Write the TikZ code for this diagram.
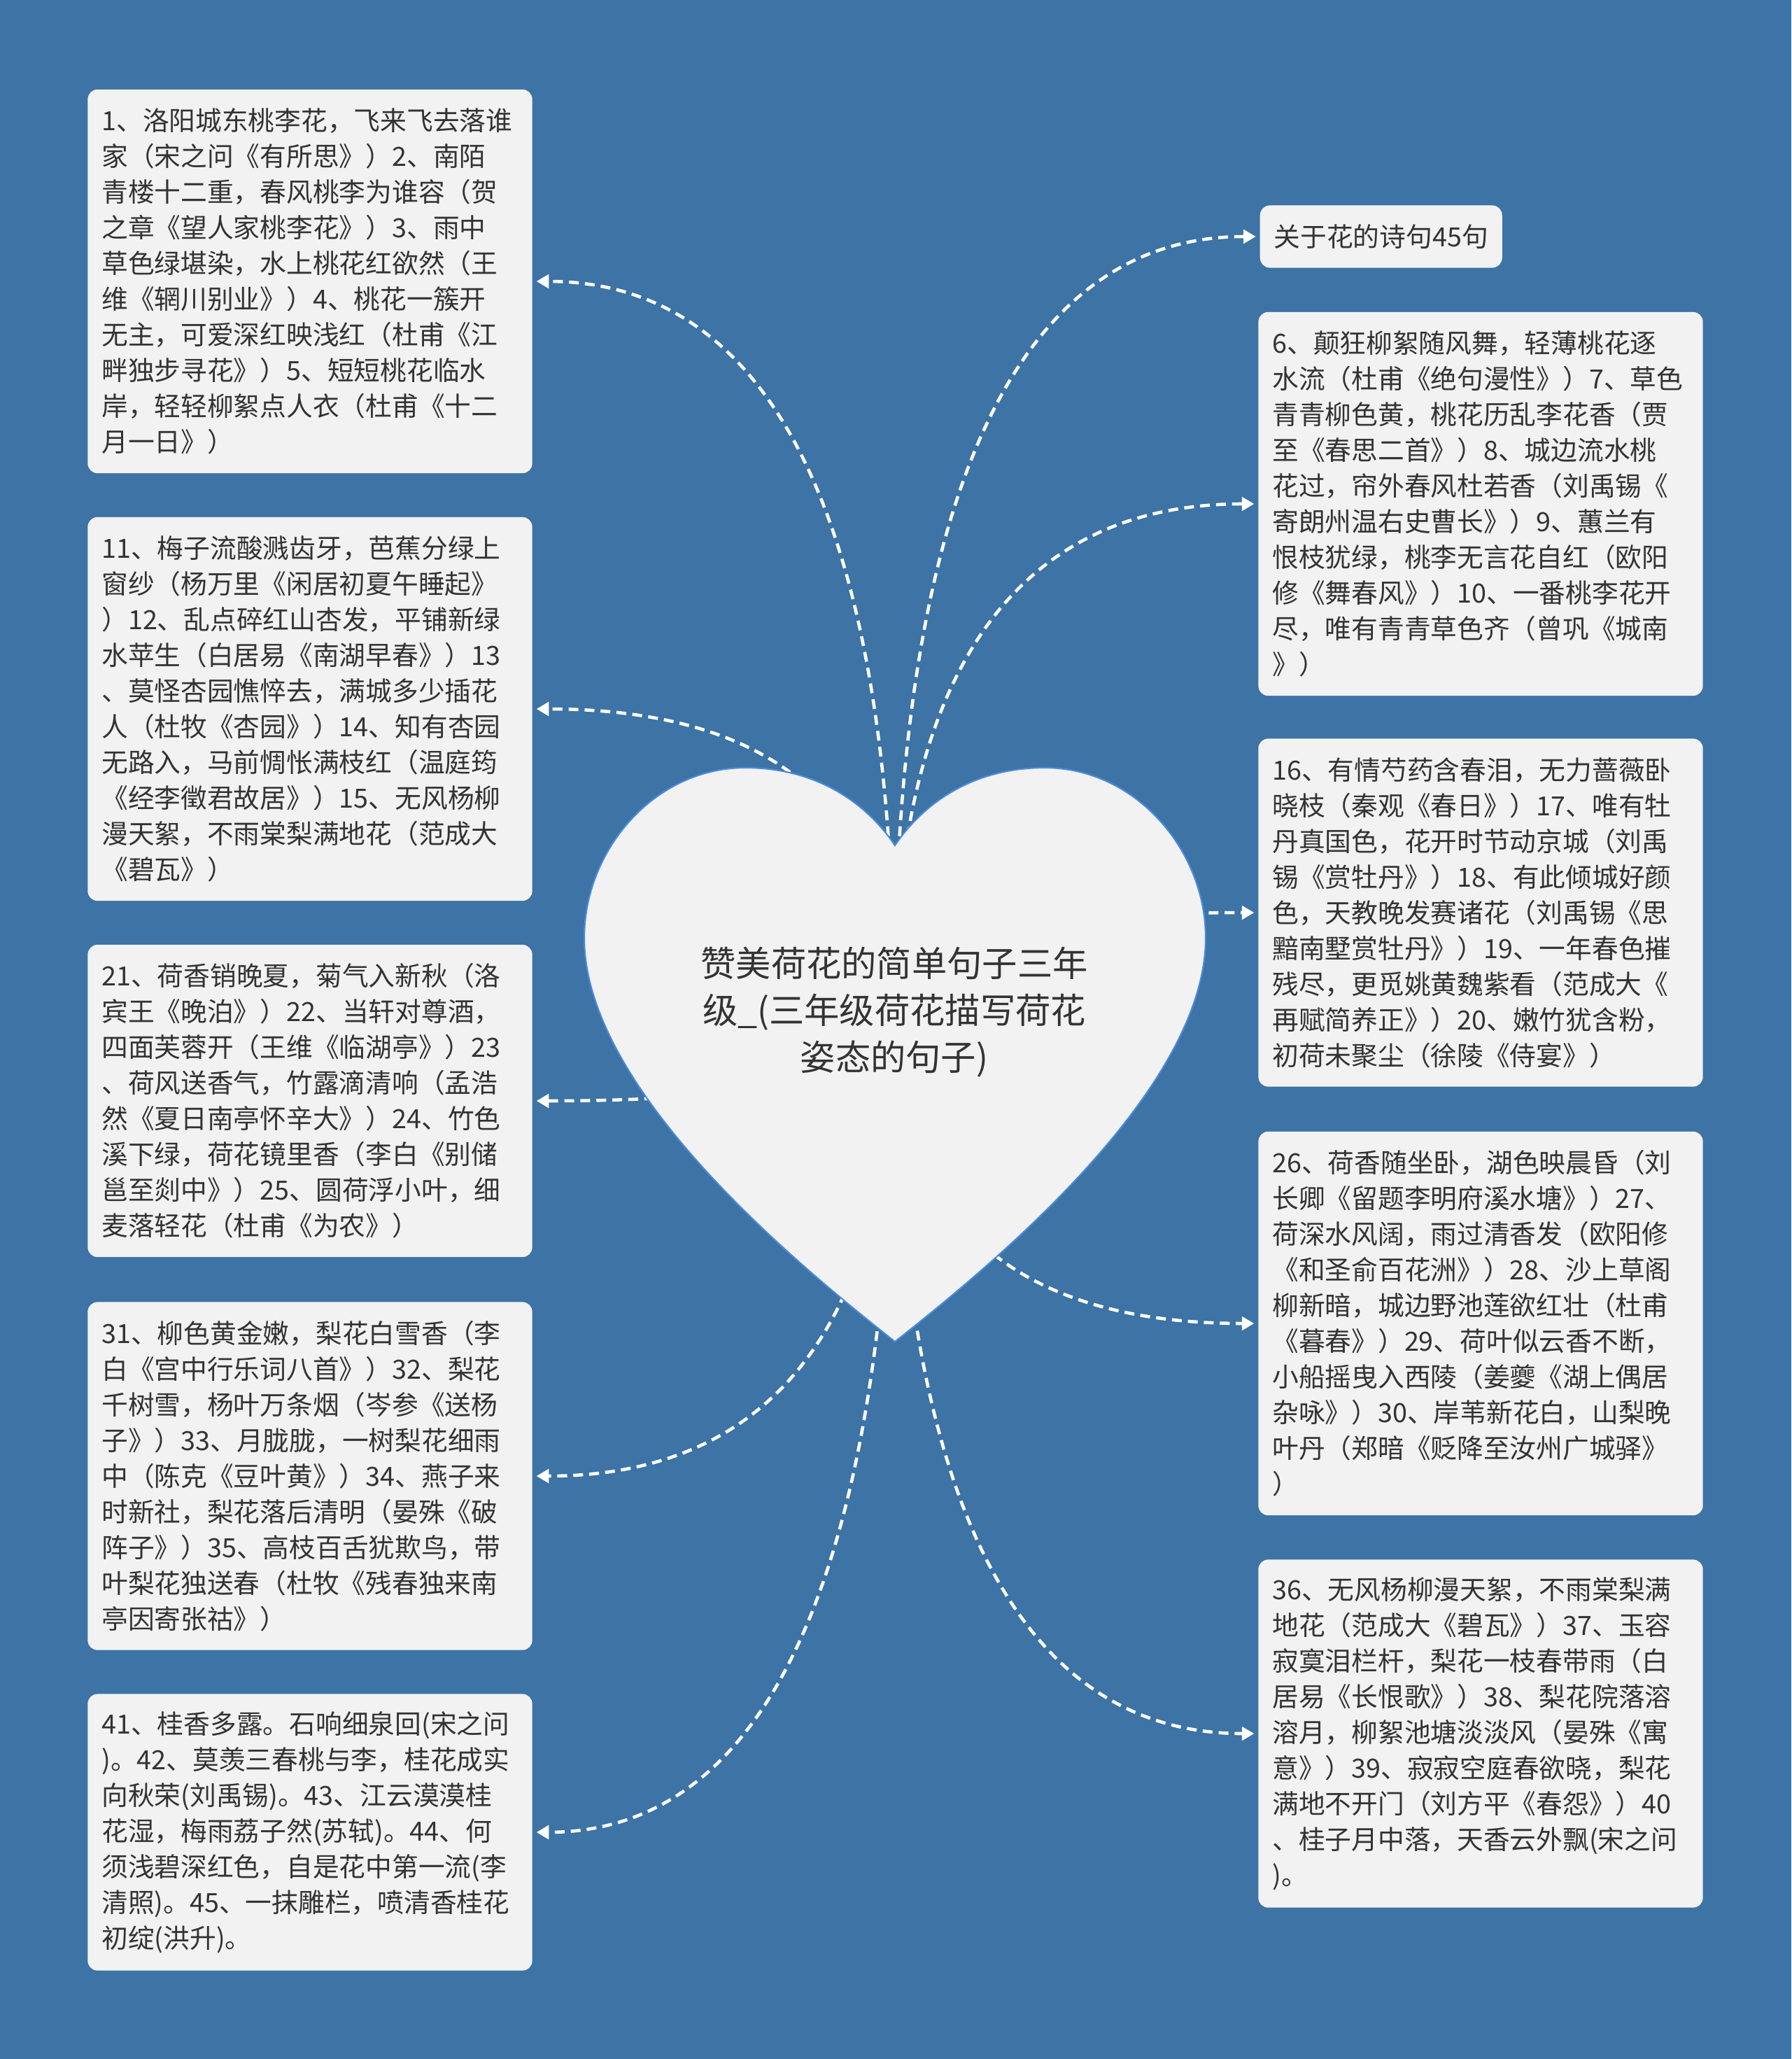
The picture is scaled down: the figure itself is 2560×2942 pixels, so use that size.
\documentclass[tikz,border=0pt]{standalone}
\usepackage{fontspec}
\setmainfont{Noto Sans CJK SC}
\usetikzlibrary{arrows.meta,calc}
\definecolor{bgblue}{HTML}{3D73A5}
\definecolor{cardgray}{HTML}{F2F2F2}
\definecolor{inkgray}{HTML}{333333}
\definecolor{rimblue}{HTML}{4A8BDB}
\pgfdeclarelayer{bg}
\pgfdeclarelayer{links}
\pgfsetlayers{bg,links,main}

\begin{document}
\begin{tikzpicture}[x=0.01cm,y=-0.01cm,
    leaf/.style={fill=cardgray, text=inkgray, rounded corners=4pt, text width=5.95cm, align=left, inner xsep=0.2cm, inner ysep=0pt, minimum height=#1, font=\fontsize{10.73pt}{14.51pt}\selectfont},
    tag/.style={fill=cardgray, text=inkgray, rounded corners=4pt, inner xsep=0.2cm, inner ysep=0pt, minimum height=0.89cm, font=\fontsize{10.73pt}{14.51pt}\selectfont},
    link/.style={draw=white, line width=1.3pt, dash pattern=on 4pt off 2.5pt, -{Triangle[length=5pt,width=5.5pt]}, shorten >=1.5pt}]
    \useasboundingbox (0,0) rectangle (2560,2942);
    \begin{pgfonlayer}{bg}
        \fill[bgblue] (0,0) rectangle (2560,2942);
    \end{pgfonlayer}

    \filldraw[fill=cardgray, draw=rimblue, line width=0.6pt] (1279,1917) .. controls (1150,1815) and (835,1560) .. (835,1340) .. controls (835,1215) and (935,1097) .. (1065,1097) .. controls (1170,1097) and (1240,1150) .. (1279,1208) .. controls (1318,1150) and (1388,1097) .. (1493,1097) .. controls (1623,1097) and (1723,1215) .. (1723,1340) .. controls (1723,1560) and (1408,1815) .. (1279,1917) -- cycle;

    \node[text=inkgray, align=center, font=\fontsize{14.3pt}{19.06pt}\selectfont] (root) at (1278,1446) {赞美荷花的简单句子三年\\级\_(三年级荷花描写荷花\\姿态的句子)};

    \node[leaf=5.48cm] (l1) at (443,402) {1、洛阳城东桃李花，飞来飞去落谁\\
家（宋之问《有所思》）2、南陌\\
青楼十二重，春风桃李为谁容（贺\\
之章《望人家桃李花》）3、雨中\\
草色绿堪染，水上桃花红欲然（王\\
维《辋川别业》）4、桃花一簇开\\
无主，可爱深红映浅红（杜甫《江\\
畔独步寻花》）5、短短桃花临水\\
岸，轻轻柳絮点人衣（杜甫《十二\\
月一日》）};
    \node[leaf=5.48cm] (l2) at (443,1013) {11、梅子流酸溅齿牙，芭蕉分绿上\\
窗纱（杨万里《闲居初夏午睡起》\\
）12、乱点碎红山杏发，平铺新绿\\
水苹生（白居易《南湖早春》）13\\
、莫怪杏园憔悴去，满城多少插花\\
人（杜牧《杏园》）14、知有杏园\\
无路入，马前惆怅满枝红（温庭筠\\
《经李徵君故居》）15、无风杨柳\\
漫天絮，不雨棠梨满地花（范成大\\
《碧瓦》）};
    \node[leaf=4.46cm] (l3) at (443,1573) {21、荷香销晚夏，菊气入新秋（洛\\
宾王《晚泊》）22、当轩对尊酒，\\
四面芙蓉开（王维《临湖亭》）23\\
、荷风送香气，竹露滴清响（孟浩\\
然《夏日南亭怀辛大》）24、竹色\\
溪下绿，荷花镜里香（李白《别储\\
邕至剡中》）25、圆荷浮小叶，细\\
麦落轻花（杜甫《为农》）};
    \node[leaf=4.97cm] (l4) at (443,2109) {31、柳色黄金嫩，梨花白雪香（李\\
白《宫中行乐词八首》）32、梨花\\
千树雪，杨叶万条烟（岑参《送杨\\
子》）33、月胧胧，一树梨花细雨\\
中（陈克《豆叶黄》）34、燕子来\\
时新社，梨花落后清明（晏殊《破\\
阵子》）35、高枝百舌犹欺鸟，带\\
叶梨花独送春（杜牧《残春独来南\\
亭因寄张祜》）};
    \node[leaf=3.95cm] (l5) at (443,2618) {41、桂香多露。石响细泉回(宋之问\\
)。42、莫羡三春桃与李，桂花成实\\
向秋荣(刘禹锡)。43、江云漠漠桂\\
花湿，梅雨荔子然(苏轼)。44、何\\
须浅碧深红色，自是花中第一流(李\\
清照)。45、一抹雕栏，喷清香桂花\\
初绽(洪升)。};

    \node[tag, anchor=west] (r0) at (1800,338) {关于花的诗句45句};
    \node[leaf=5.48cm] (r1) at (2116,720) {6、颠狂柳絮随风舞，轻薄桃花逐\\
水流（杜甫《绝句漫性》）7、草色\\
青青柳色黄，桃花历乱李花香（贾\\
至《春思二首》）8、城边流水桃\\
花过，帘外春风杜若香（刘禹锡《\\
寄朗州温右史曹长》）9、蕙兰有\\
恨枝犹绿，桃李无言花自红（欧阳\\
修《舞春风》）10、一番桃李花开\\
尽，唯有青青草色齐（曾巩《城南\\
》）};
    \node[leaf=4.97cm] (r2) at (2116,1304) {16、有情芍药含春泪，无力蔷薇卧\\
晓枝（秦观《春日》）17、唯有牡\\
丹真国色，花开时节动京城（刘禹\\
锡《赏牡丹》）18、有此倾城好颜\\
色，天教晚发赛诸花（刘禹锡《思\\
黯南墅赏牡丹》）19、一年春色摧\\
残尽，更觅姚黄魏紫看（范成大《\\
再赋简养正》）20、嫩竹犹含粉，\\
初荷未聚尘（徐陵《侍宴》）};
    \node[leaf=5.48cm] (r3) at (2116,1891) {26、荷香随坐卧，湖色映晨昏（刘\\
长卿《留题李明府溪水塘》）27、\\
荷深水风阔，雨过清香发（欧阳修\\
《和圣俞百花洲》）28、沙上草阁\\
柳新暗，城边野池莲欲红壮（杜甫\\
《暮春》）29、荷叶似云香不断，\\
小船摇曳入西陵（姜夔《湖上偶居\\
杂咏》）30、岸苇新花白，山梨晚\\
叶丹（郑暗《贬降至汝州广城驿》\\
）};
    \node[leaf=4.97cm] (r4) at (2116,2477) {36、无风杨柳漫天絮，不雨棠梨满\\
地花（范成大《碧瓦》）37、玉容\\
寂寞泪栏杆，梨花一枝春带雨（白\\
居易《长恨歌》）38、梨花院落溶\\
溶月，柳絮池塘淡淡风（晏殊《寓\\
意》）39、寂寂空庭春欲晓，梨花\\
满地不开门（刘方平《春怨》）40\\
、桂子月中落，天香云外飘(宋之问\\
)。};

    \begin{pgfonlayer}{links}
        \foreach \leafname in {l1,l2,l3,l4,l5} {
            \coordinate (bend) at (root.center |- \leafname.east);
            \draw[link] (root.center) .. controls ($(root.center)!2/3!(bend)$) and ($(\leafname.east)!2/3!(bend)$) .. (\leafname.east);
        }
        \foreach \leafname in {r0,r1,r2,r3,r4} {
            \coordinate (bend) at (root.center |- \leafname.west);
            \draw[link] (root.center) .. controls ($(root.center)!2/3!(bend)$) and ($(\leafname.west)!2/3!(bend)$) .. (\leafname.west);
        }
    \end{pgfonlayer}
\end{tikzpicture}
\end{document}
